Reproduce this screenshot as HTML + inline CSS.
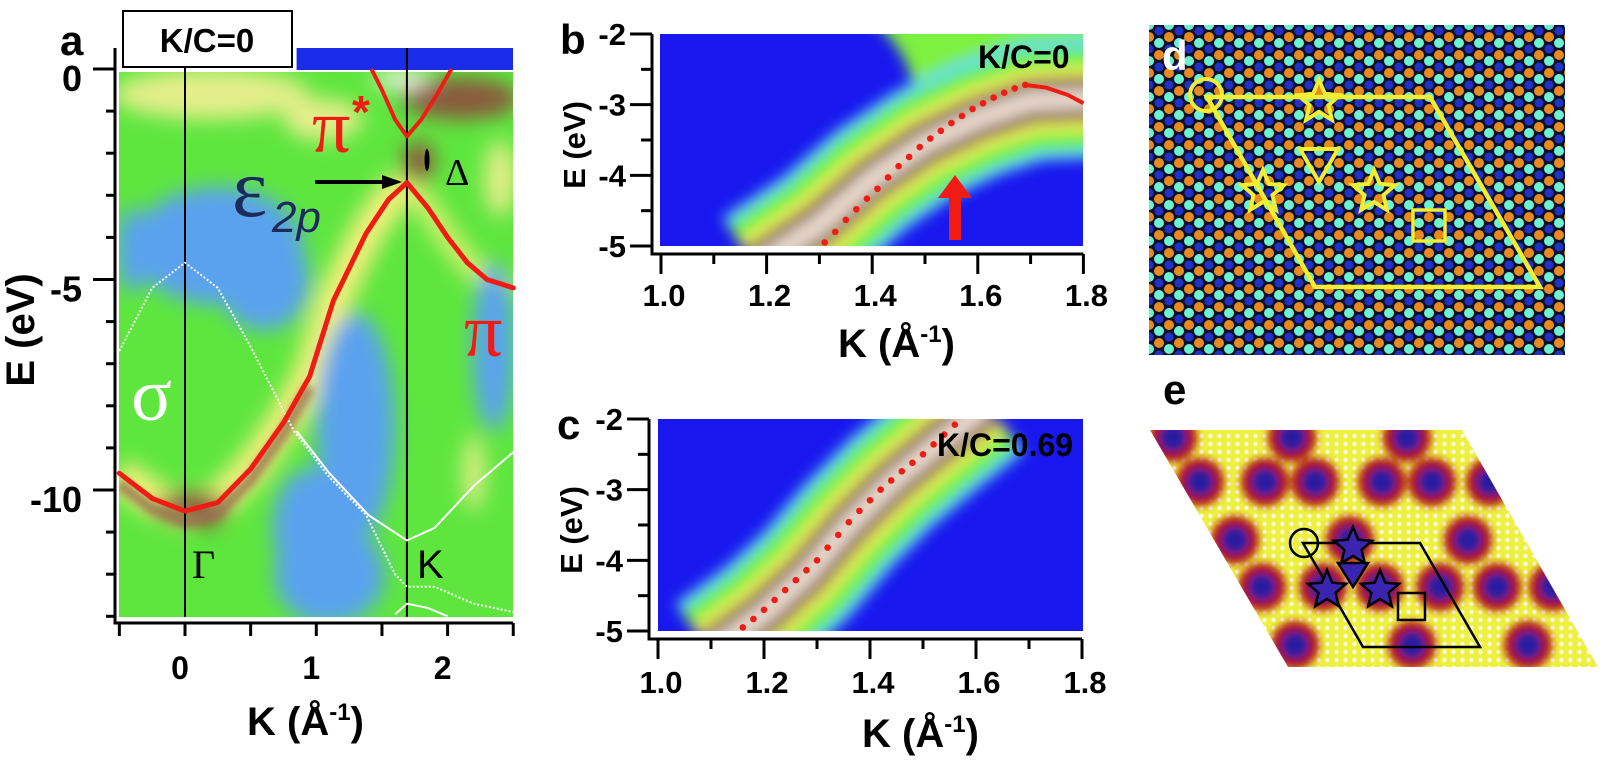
<!DOCTYPE html>
<html><head><meta charset="utf-8"><style>
html,body{margin:0;padding:0;background:#fff;}
svg{display:block;font-family:"Liberation Sans",sans-serif;}
</style></head><body>
<svg id="fig" width="1605" height="761" viewBox="0 0 1605 761" xmlns="http://www.w3.org/2000/svg">
<defs>
<filter id="blur8" x="-50%" y="-50%" width="200%" height="200%"><feGaussianBlur stdDeviation="7"/></filter>
<filter id="blur14" x="-50%" y="-50%" width="200%" height="200%"><feGaussianBlur stdDeviation="10"/></filter>
<filter id="blur4" x="-50%" y="-50%" width="200%" height="200%"><feGaussianBlur stdDeviation="4"/></filter>
<clipPath id="clipA"><rect x="119" y="72" width="394" height="545"/></clipPath>
<clipPath id="clipB"><rect x="660" y="34" width="423" height="212"/></clipPath>
<clipPath id="clipC"><rect x="658" y="419" width="425" height="212"/></clipPath>
<clipPath id="clipD"><rect x="1149" y="25" width="416" height="330"/></clipPath>
<clipPath id="clipE"><polygon points="1150,430 1462,430 1598,667 1288,667"/></clipPath>
<pattern id="lattice" width="20" height="36" patternUnits="userSpaceOnUse" x="1149" y="25">
<rect width="20" height="36" fill="#0a1028"/>
<circle cx="0" cy="0" r="5" fill="#6ff0d0"/><circle cx="20" cy="0" r="5" fill="#6ff0d0"/>
<circle cx="0" cy="36" r="5" fill="#6ff0d0"/><circle cx="20" cy="36" r="5" fill="#6ff0d0"/>
<circle cx="10" cy="6" r="4.5" fill="#2232c8"/>
<circle cx="0" cy="12" r="5" fill="#e88a20"/><circle cx="20" cy="12" r="5" fill="#e88a20"/>
<circle cx="10" cy="18" r="5" fill="#6ff0d0"/>
<circle cx="0" cy="24" r="4.5" fill="#2232c8"/><circle cx="20" cy="24" r="4.5" fill="#2232c8"/>
<circle cx="10" cy="30" r="5" fill="#e88a20"/>
</pattern>
<pattern id="dotsE" width="9" height="8" patternUnits="userSpaceOnUse">
<rect width="9" height="8" fill="#eef040"/><circle cx="4.5" cy="4" r="2.2" fill="#fbfbe0"/>
</pattern>
</defs>
</svg>
<script>
// ---------- DATA ----------
const aXTicks=[-0.5,0,0.5,1,1.5,2,2.5];
const aXLabels=[0,1,2];
const aYTicks=[0,-1,-2,-3,-4,-5,-6,-7,-8,-9,-10,-11,-12,-13];
const aYLabels=[0,-5,-10];
const piK=[-0.5,-0.25,0,0.25,0.5,0.75,0.95,1.13,1.38,1.55,1.69];
const piE=[-9.6,-10.2,-10.5,-10.3,-9.5,-8.4,-7.3,-5.5,-3.9,-3.1,-2.7];
const piRK=[1.69,1.85,2.0,2.15,2.3,2.5];
const piRE=[-2.7,-3.3,-4.0,-4.6,-5.0,-5.2];
const piStarK=[1.42,1.5,1.6,1.69,1.8,1.92,2.03];
const piStarE=[0,-0.5,-1.2,-1.6,-1.2,-0.6,0];
const sig1K=[-0.5,-0.25,0,0.25,0.5,0.83,1.1,1.38,1.6,1.69,1.9,2.2,2.5];
const sig1E=[-6.7,-5.2,-4.6,-5.2,-6.6,-8.6,-9.7,-10.6,-12.0,-12.3,-12.3,-12.7,-12.9];
const sig2K=[0.85,1.1,1.4,1.69,1.9,2.2,2.5];
const sig2E=[-8.6,-9.6,-10.6,-11.2,-10.9,-9.9,-9.1];
const sig3K=[1.6,1.69,1.85,2.0];
const sig3E=[-12.95,-12.7,-12.8,-13.0];
const aVLines=[0,1.69];
const aBlobK=[0.25,0.6,-0.4,1.3,1.1,2.35,0.95,0.2,1.05,2.1,1.65,0.05,0.15,1.78,2.2,2.4];
const aBlobE=[-4.2,-5.0,-4.3,-8.5,-12.0,-6.6,-10.9,-0.6,-1.2,-0.7,-0.25,-10.4,-10.6,-2.2,-9.6,-2.6];
const aBlobRK=[0.65,0.35,0.12,0.3,0.42,0.16,0.28,0.75,0.3,0.45,0.22,0.28,0.15,0.12,0.08,0.12];
const aBlobRE=[1.4,1.2,1.0,2.7,1.2,2.0,1.4,0.6,0.5,0.5,0.22,0.35,0.3,0.5,0.9,0.9];
const aBlobType=['low','low','low','low','low','low','low','mid','mid','high','peak','high','high','high','mid','mid'];
const bXTicks=[1.0,1.1,1.2,1.3,1.4,1.5,1.6,1.7,1.8];
const bXLabels=['1.0','1.2','1.4','1.6','1.8'];
const bYTicks=[-2,-2.5,-3,-3.5,-4,-4.5,-5];
const bYLabels=[-2,-3,-4,-5];
const bDotK=[1.31,1.33,1.35,1.37,1.39,1.41,1.43,1.45,1.47,1.49,1.51,1.53,1.55,1.57,1.59,1.61,1.63,1.65,1.67,1.69];
const bDotE=[-4.95,-4.8,-4.63,-4.48,-4.33,-4.19,-4.03,-3.87,-3.74,-3.6,-3.48,-3.37,-3.26,-3.16,-3.06,-2.98,-2.9,-2.83,-2.77,-2.72];
const bCurveK=[1.69,1.73,1.77,1.8];
const bCurveE=[-2.72,-2.76,-2.86,-2.98];
const bBandK=[1.18,1.3,1.4,1.5,1.6,1.7,1.85];
const bBandE=[-5.3,-4.7,-4.05,-3.55,-3.2,-2.95,-2.9];
const cXTicks=[1.0,1.1,1.2,1.3,1.4,1.5,1.6,1.7,1.8];
const cXLabels=['1.0','1.2','1.4','1.6','1.8'];
const cYTicks=[-2,-2.5,-3,-3.5,-4,-4.5,-5];
const cYLabels=[-2,-3,-4,-5];
const cDotK=[1.16,1.18,1.2,1.22,1.24,1.26,1.28,1.3,1.32,1.34,1.36,1.38,1.4,1.42,1.44,1.46,1.48,1.5,1.52,1.54,1.56];
const cDotE=[-4.95,-4.83,-4.7,-4.56,-4.42,-4.28,-4.14,-4.0,-3.82,-3.64,-3.46,-3.3,-3.15,-3.0,-2.87,-2.74,-2.62,-2.5,-2.36,-2.22,-2.08];
const cBandK=[1.1,1.2,1.28,1.36,1.44,1.52,1.62];
const cBandE=[-5.3,-4.75,-4.2,-3.5,-2.9,-2.4,-1.8];
const eBlobX=[1173,1292,1407,1200,1265,1315,1382,1432,1490,1235,1350,1468,1262,1323,1380,1440,1497,1553,1295,1412,1528];
const eBlobY=[438,438,438,482,482,482,482,482,482,540,540,540,587,587,587,587,587,587,645,645,645];

// ---------- HELPERS ----------
const NS='http://www.w3.org/2000/svg';
const svg=document.getElementById('fig');
function mk(tag,attrs,parent){const e=document.createElementNS(NS,tag);for(const k in attrs)e.setAttribute(k,attrs[k]);(parent||svg).appendChild(e);return e;}
function txt(s,attrs,parent){const t=mk('text',attrs,parent);t.textContent=s;return t;}
const xA=k=>185+k*131.3, yA=e=>69-e*42.1;
const xB=k=>661+(k-1)*528, yB=e=>34-(e+2)*70.67;
const xC=k=>658+(k-1)*530, yC=e=>419-(e+2)*70.67;
function pts(K,E,fx,fy){return K.map((k,i)=>fx(k).toFixed(1)+','+fy(E[i]).toFixed(1)).join(' ');}
const BOLD={'font-weight':'bold','fill':'#000'};
function withBold(o){return Object.assign({},BOLD,o);}

// ================= PANEL A =================
const gA=mk('g',{});


const heatA=mk('g',{'clip-path':'url(#clipA)'},gA);


const baseA=mk('rect',{x:119,y:72,width:394,height:545,fill:'#5ee63e'},heatA);


const blobCol={low:'#5aa2ee',mid:'#e4ee8a',high:'#8a5a3c',peak:'#f6f2ea'};
const blobLayer=mk('g',{filter:'url(#blur14)'},heatA);
const glow1=mk('polyline',{points:pts(piK,piE,xA,yA),fill:'none',stroke:'#f2f07c','stroke-width':34,'stroke-linejoin':'round'},blobLayer);


const glow2=mk('polyline',{points:pts(piRK,piRE,xA,yA),fill:'none',stroke:'#d8f070','stroke-width':22},blobLayer);


aBlobK.forEach((k,i)=>{
  const b=mk('ellipse',{cx:xA(k),cy:yA(aBlobE[i]),rx:aBlobRK[i]*131.3,ry:aBlobRE[i]*42.1,fill:blobCol[aBlobType[i]]},blobLayer);
  
  
});
const coreA=mk('g',{filter:'url(#blur4)'},heatA);
const core1=mk('polyline',{points:pts(piK.slice(0,7),piE.slice(0,7).map(v=>v-0.25),xA,yA),fill:'none',stroke:'#9a7052','stroke-width':12,opacity:0.8},coreA);


const strip=mk('rect',{x:xA(0.85),y:48,width:513-xA(0.85),height:22,fill:'#1a2ce8'},gA);


aVLines.forEach(k=>{
  const l=mk('line',{x1:xA(k),x2:xA(k),y1:48,y2:617,stroke:'#000','stroke-width':2},gA);
  
  
});
const s1=mk('polyline',{points:pts(sig1K,sig1E,xA,yA),fill:'none',stroke:'#fff','stroke-width':2,'stroke-dasharray':'2,2','clip-path':'url(#clipA)'},gA);


const s2=mk('polyline',{points:pts(sig2K,sig2E,xA,yA),fill:'none',stroke:'#fff','stroke-width':2,'clip-path':'url(#clipA)'},gA);


const s3=mk('polyline',{points:pts(sig3K,sig3E,xA,yA),fill:'none',stroke:'#fff','stroke-width':2,'clip-path':'url(#clipA)'},gA);


const p1=mk('polyline',{points:pts(piK,piE,xA,yA),fill:'none',stroke:'#f01c14','stroke-width':5,'stroke-linejoin':'round','stroke-linecap':'round'},gA);


const p2=mk('polyline',{points:pts(piRK,piRE,xA,yA),fill:'none',stroke:'#f01c14','stroke-width':5,'stroke-linejoin':'round','stroke-linecap':'round'},gA);


const p3=mk('polyline',{points:pts(piStarK,piStarE,xA,yA),fill:'none',stroke:'#f01c14','stroke-width':4,'stroke-linejoin':'round'},gA);


const axA=mk('path',{d:'M115,48 V623 H513',fill:'none',stroke:'#000','stroke-width':3},gA);


aYTicks.forEach(e=>{
  const major=aYLabels.includes(e);
  const t=mk('line',{x1:major?93:106,x2:115,y1:yA(e),y2:yA(e),stroke:'#000','stroke-width':3},gA);
  
  
});
aYLabels.forEach(e=>{
  const t=txt(String(e),withBold({x:82,y:yA(e)+22,'font-size':36,'text-anchor':'end'}),gA);
  
  
});
aXTicks.forEach(k=>{
  const t=mk('line',{x1:xA(k),x2:xA(k),y1:623,y2:636,stroke:'#000','stroke-width':3},gA);
  
  
});
aXLabels.forEach(k=>{
  const t=txt(String(k),withBold({x:xA(k)-5,y:679,'font-size':32,'text-anchor':'middle'}),gA);
  
  
});
const axtA=txt('K (Å',withBold({x:247,y:735,'font-size':40}),gA);
const supA=mk('tspan',{dy:-15,'font-size':24},axtA);supA.textContent='-1';
const supA2=mk('tspan',{dy:15},axtA);supA2.textContent=')';


const aytA=txt('E (eV)',withBold({x:0,y:0,'font-size':40,'text-anchor':'middle',transform:'translate(34,330) rotate(-90)'}),gA);


const labA=txt('a',withBold({x:60,y:55,'font-size':42}),gA);


const boxA=mk('rect',{x:123,y:11,width:169,height:56,fill:'#fff',stroke:'#000','stroke-width':2},gA);


const boxT=txt('K/C=0',withBold({x:207,y:52,'font-size':33,'text-anchor':'middle'}),gA);


const serif='"Liberation Serif",serif';
const lPiS=txt('π',{x:312,y:152,'font-size':76,fill:'#f01c14','font-family':serif},gA);


const lPiSt=txt('*',{x:352,y:128,'font-size':46,fill:'#f01c14','font-weight':'bold'},gA);


const lPi=txt('π',{x:464,y:356,'font-size':76,fill:'#f01c14','font-family':serif},gA);


const lD=txt('Δ',{x:445,y:185,'font-size':38,fill:'#000','font-family':serif},gA);


const gapM=mk('ellipse',{cx:427,cy:160,rx:2.5,ry:11,fill:'#000'},gA);


const lEps=txt('ε',{x:232,y:216,'font-size':84,fill:'#1c2a5c','font-family':serif},gA);


const lSub=txt('2p',{x:272,y:232,'font-size':44,fill:'#1c2a5c','font-style':'italic'},gA);


const arr=mk('path',{d:'M315,182 H384',stroke:'#000','stroke-width':4},gA);


const arrH=mk('polygon',{points:'382,175 402,182 382,189',fill:'#000'},gA);


const lSig=txt('σ',{x:131,y:420,'font-size':76,fill:'#fff','font-family':serif},gA);


const lG=txt('Γ',{x:192,y:578,'font-size':40,fill:'#000','font-family':serif},gA);


const lK=txt('K',{x:417,y:578,'font-size':40,fill:'#000'},gA);



// ================= PANELS B & C =================
function panelBC(id,fx,fy,xTicks,xLabels,yTicks,yLabels,dotK,dotE,bandK,bandE,clip,label,kc,kcX,kcY,titleX,titleY,xlY){
  const g=mk('g',{});
  
  
  const h=mk('g',{'clip-path':'url('+clip+')'},g);
  
  
  const bg=mk('rect',{x:fx(1.0)-2,y:fy(-2),width:fx(1.8)-fx(1.0)+4,height:fy(-5)-fy(-2),fill:'#1818ee'},h);
  
  
  const bl=mk('g',{filter:'url(#blur8)'},h);
  if(id==='b'){
    const up=mk('path',{d:'M'+fx(1.4)+','+fy(-1.8)+' Q'+fx(1.52)+','+fy(-2.6)+' '+fx(1.45)+','+fy(-3.4)+' L'+fx(1.85)+','+fy(-3.0)+' L'+fx(1.85)+','+fy(-1.8)+' Z',fill:'#7ef040'},bl);
    
    
  }
  const w=[[120,'#5fd8f0'],[100,'#6ef040'],[66,'#f0f060'],[44,'#7a5240'],[22,'#e8d8cc']];
  w.forEach(p=>{
    const s=mk('polyline',{points:pts(bandK,bandE,fx,fy),fill:'none',stroke:p[1],'stroke-width':p[0],'stroke-linejoin':'round'},bl);
    
    
  });
  dotK.forEach((k,i)=>{
    const d=mk('circle',{cx:fx(k),cy:fy(dotE[i]),r:3.3,fill:'#f01c14'},g);
    
    
  });
  const axX=fx(1.0)-9;
  const yBot=fy(-5)+8;
  const ax=mk('path',{d:'M'+axX+','+fy(-2)+' V'+yBot+' H'+fx(1.8),fill:'none',stroke:'#000','stroke-width':3},g);
  
  
  yTicks.forEach(e=>{
    const major=Number.isInteger(e);
    const t=mk('line',{x1:axX-(major?22:11),x2:axX,y1:fy(e),y2:fy(e),stroke:'#000','stroke-width':3},g);
    
    
  });
  yLabels.forEach(e=>{
    const t=txt(String(e),withBold({x:axX-26,y:fy(e)+11,'font-size':31,'text-anchor':'end'}),g);
    
    
  });
  xTicks.forEach((k,i)=>{
    const t=mk('line',{x1:fx(k),x2:fx(k),y1:yBot,y2:yBot+(i%2?10:20),stroke:'#000','stroke-width':3},g);
    
    
  });
  xLabels.forEach(s=>{
    const t=txt(s,withBold({x:fx(parseFloat(s))+3,y:xlY,'font-size':31,'text-anchor':'middle'}),g);
    
    
  });
  const tt=txt('K (Å',withBold({x:titleX,y:titleY,'font-size':40}),g);
  const s1=mk('tspan',{dy:-15,'font-size':24},tt);s1.textContent='-1';
  const s2=mk('tspan',{dy:15},tt);s2.textContent=')';
  
  
  const yt=txt('E (eV)',withBold({x:0,y:0,'font-size':31,'text-anchor':'middle',transform:'translate('+(fx(1.0)-76)+','+(fy(-3.5)+5)+') rotate(-90)'}),g);
  
  
  const pl=txt(label,withBold({x:fx(1.0)-101,y:fy(-2)+20,'font-size':42}),g);
  
  
  const kt=txt(kc,withBold({x:kcX,y:kcY,'font-size':32}),g);
  
  
  return g;
}
const gB=panelBC('b',xB,yB,bXTicks,bXLabels,bYTicks,bYLabels,bDotK,bDotE,bBandK,bBandE,'#clipB','b','K/C=0',978,68,838,357,306);
const cur=mk('polyline',{points:pts(bCurveK,bCurveE,xB,yB),fill:'none',stroke:'#f01c14','stroke-width':4},gB);


const redArr=mk('polygon',{points:'949,240 961,240 961,198 972,198 955,175 938,198 949,198',fill:'#f01c14'},gB);


panelBC('c',xC,yC,cXTicks,cXLabels,cYTicks,cYLabels,cDotK,cDotE,cBandK,cBandE,'#clipC','c','K/C=0.69',937,456,862,747,693);

// ================= PANEL D =================
const gD=mk('g',{});


const lat=mk('rect',{x:1149,y:25,width:416,height:330,fill:'url(#lattice)'},gD);


const Y='#f2ee30';
const cellD=mk('polygon',{points:'1207,97 1430,97 1540,287 1315,287',fill:'none',stroke:Y,'stroke-width':4.5},gD);


function star(cx,cy,R,r){let p=[];for(let i=0;i<10;i++){const a=-Math.PI/2+i*Math.PI/5,rr=i%2?r:R;p.push((cx+rr*Math.cos(a)).toFixed(1)+','+(cy+rr*Math.sin(a)).toFixed(1));}return p.join(' ');}
const dCirc=mk('circle',{cx:1206,cy:95,r:16,fill:'none',stroke:Y,'stroke-width':4},gD);


[[1319,102],[1263,192],[1374,192]].forEach(p=>{
  const s=mk('polygon',{points:star(p[0],p[1],22,10),fill:'none',stroke:Y,'stroke-width':4},gD);
  
  
});
const dTri=mk('polygon',{points:'1300,149 1338,149 1319,182',fill:'none',stroke:Y,'stroke-width':4},gD);


const dSq=mk('rect',{x:1413,y:210,width:32,height:31,fill:'none',stroke:Y,'stroke-width':3.5},gD);


const labD=txt('d',withBold({x:1162,y:70,'font-size':42}),gD);
labD.setAttribute('fill','#fff');



// ================= PANEL E =================
const gE=mk('g',{});


const eImg=mk('g',{'clip-path':'url(#clipE)'},gE);


const eBg=mk('rect',{x:1140,y:425,width:465,height:250,fill:'url(#dotsE)'},eImg);


const eBl=mk('g',{filter:'url(#blur4)'},eImg);
eBlobX.forEach((x,i)=>{
  const o=mk('circle',{cx:x,cy:eBlobY[i],r:24,fill:'#b01410'},eBl);
  
  
  const c=mk('circle',{cx:x,cy:eBlobY[i],r:14,fill:'#2a1aa0'},eBl);
  
  
});
const cellE=mk('polygon',{points:'1303,543 1420,543 1480,647 1363,647',fill:'none',stroke:'#000','stroke-width':2.5},gE);


const eCirc=mk('circle',{cx:1304,cy:543,r:14,fill:'none',stroke:'#000','stroke-width':2.5},gE);


[[1353,547],[1327,590],[1380,590]].forEach(p=>{
  const s=mk('polygon',{points:star(p[0],p[1],20,9),fill:'#3a24b0',stroke:'#000','stroke-width':2.5},gE);
  
  
});
const eTri=mk('polygon',{points:'1338,563 1368,563 1353,587',fill:'#3a24b0',stroke:'#000','stroke-width':2.5},gE);


const eSq=mk('rect',{x:1398,y:593,width:27,height:27,fill:'none',stroke:'#000','stroke-width':2.5},gE);


const labE=txt('e',withBold({x:1163,y:404,'font-size':42}),gE);


</script>
</body></html>
